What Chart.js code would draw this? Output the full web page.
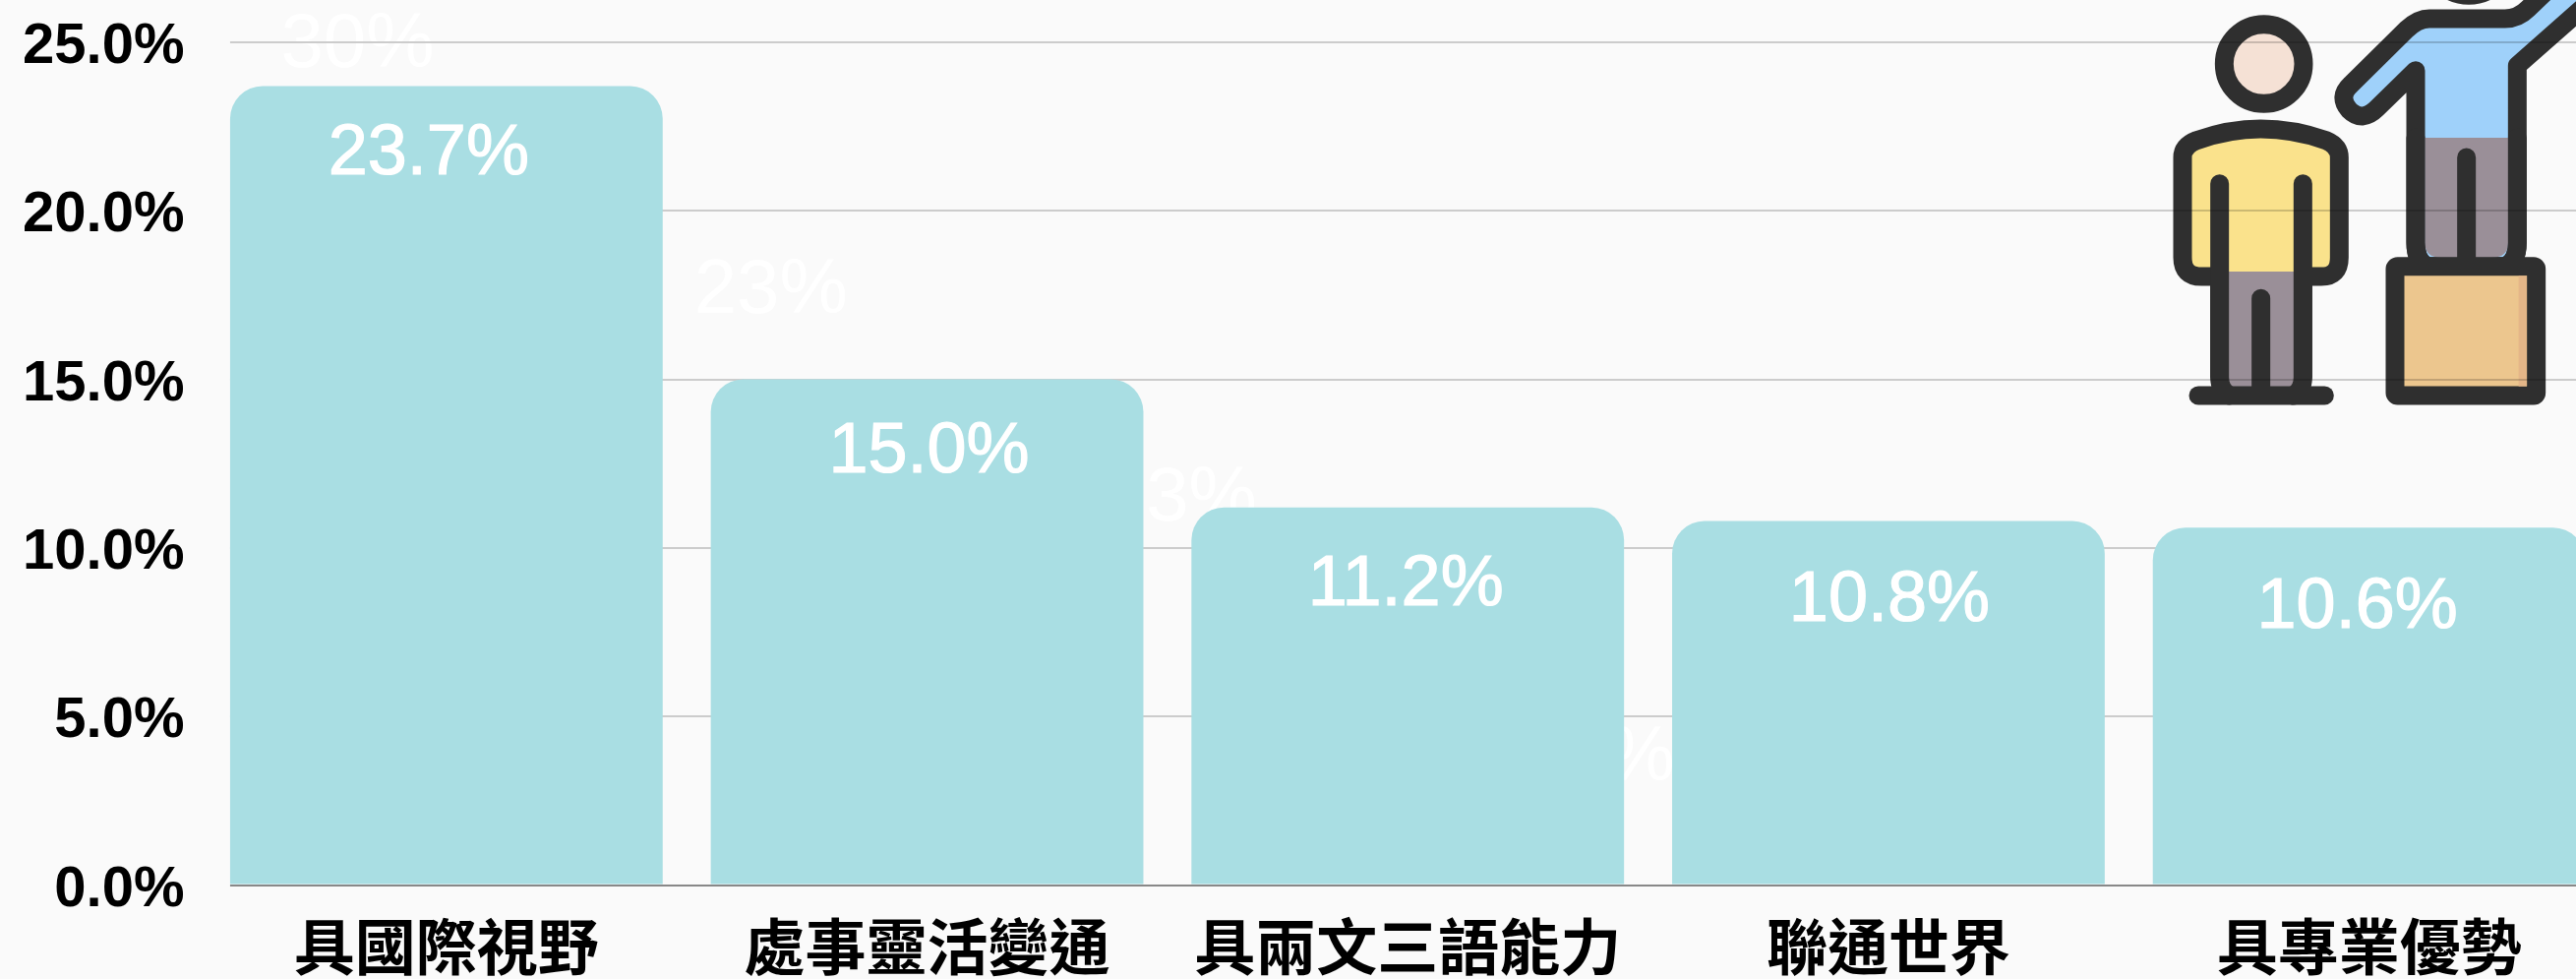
<!DOCTYPE html>
<html>
<head>
<meta charset="utf-8">
<script src="https://cdn.jsdelivr.net/npm/chart.js@4"></script>
<style>
    html, body { margin: 0; height: 100%; overflow: hidden; background: #fafafa; }
    #wrap { position: absolute; left: 0; top: 0; width: 2653px; height: 995px; }
    #icon { position: absolute; left: 2150px; top: 0; width: 469px; height: 430px; mix-blend-mode: multiply; }
</style>
</head>
<body>
<div id="wrap"><canvas id="barChart"></canvas></div>

<!-- people icon, drawn in a 3x grid -->
<svg id="icon" viewBox="0 0 1407 1290">
    <g fill="none" stroke="#303030" stroke-width="57" stroke-linecap="round" stroke-linejoin="round">
        <circle cx="455" cy="195" r="121" fill="#fae6da"/>
        <path d="M320,1150 V843 Q300,843 265,843 Q207,843 207,785 V480 Q207,445 250,428 Q350,393 445,393 Q545,393 645,428 Q685,445 685,480 V785 Q685,843 630,843 Q600,843 574,843 V1150" fill="#ffe78f"/>
        <path d="M320,828 H574 V1150 Q574,1206 540,1206 H350 Q320,1206 320,1150 Z" fill="#9d929b" stroke="none"/>
        <path d="M320,560 V1150 Q320,1190 350,1206 M574,560 V1150 Q574,1190 545,1206 M446,910 V1190"/>
        <path d="M255,1206 H640"/>

        <path d="M918,215 L800,330 Q755,375 715,335 Q680,295 720,258 L890,90 Q925,57 960,57 H1190 Q1230,57 1260,27 L1330,-40 H1500 L1228,200 V740 Q1228,800 1190,812 H955 Q918,800 918,740 Z" fill="#a2d6ff"/>
        <path d="M946,420 H1200 V740 Q1200,785 1150,785 H996 Q946,785 946,740 Z" fill="#9d929b" stroke="none"/>
        <path d="M918,420 V740 Q918,790 950,812 M1228,420 V740 Q1228,790 1195,812 M1073,480 V800"/>
        <circle cx="1080" cy="-135" r="121" fill="#fae6da"/>
        <rect x="855" y="812" width="431" height="394" rx="8" fill="#f1ca91"/>
        <rect x="1232" y="841" width="25" height="337" fill="#e9ba8b" stroke="none"/>
    </g>
</svg>

<script>
const categories = ['具國際視野', '處事靈活變通', '具兩文三語能力', '聯通世界', '具專業優勢'];
const seriesValues = [23.7, 15.0, 11.2, 10.8, 10.6];
const valueTicks = [0, 5, 10, 15, 20, 25];

// faint leftover labels sitting behind the bars
const ghostLabels = ['30%', '23%', '13.3%', '8%'];
const ghostX = [-0.185, 0.675, 1.46, 2.44];
const ghostY = [24.9, 17.6, 11.45, 3.75];

// label nudges in pixels, the source does not centre them exactly
const labelShiftX = [-18, 2, -2, 1, -12];
const labelDrop = [89, 94, 99, 101.5, 102];

const BG = '#fafafa';

const ghostPlugin = {
    id: 'ghostLabels',
    beforeDraw(chart) {
        const { ctx, scales } = chart;
        ctx.save();
        ctx.fillStyle = '#ffffff';
        ctx.font = '78px "Liberation Sans"';
        ctx.textAlign = 'center';
        ctx.textBaseline = 'middle';
        ghostLabels.forEach(function (text, i) {
            ctx.fillText(text, scales.xGhost.getPixelForValue(ghostX[i]), scales.y.getPixelForValue(ghostY[i]));
        });
        ctx.restore();
    }
};

// grid starts at the first bar's left edge, not at the chart area edge
const gridStartPlugin = {
    id: 'gridStart',
    beforeDatasetsDraw(chart) {
        const { ctx, chartArea } = chart;
        const first = chart.getDatasetMeta(0).data[0];
        ctx.save();
        ctx.fillStyle = BG;
        ctx.fillRect(chartArea.left - 2, chartArea.top - 3, first.x - first.width / 2 - chartArea.left + 2, chartArea.height + 6);
        ctx.restore();
    }
};

const valueLabelPlugin = {
    id: 'valueLabels',
    afterDatasetsDraw(chart) {
        const { ctx } = chart;
        ctx.save();
        ctx.fillStyle = '#ffffff';
        ctx.strokeStyle = '#ffffff';
        ctx.lineWidth = 1.2;
        ctx.font = '72px "Liberation Sans"';
        ctx.textAlign = 'center';
        ctx.textBaseline = 'alphabetic';
        chart.getDatasetMeta(0).data.forEach(function (bar, i) {
            const text = seriesValues[i].toFixed(1) + '%';
            ctx.fillText(text, bar.x + labelShiftX[i], bar.y + labelDrop[i]);
            ctx.strokeText(text, bar.x + labelShiftX[i], bar.y + labelDrop[i]);
        });
        ctx.restore();
    }
};

const ctx = document.getElementById('barChart').getContext('2d');
const barChart = new Chart(ctx, {
    type: 'bar',
    data: {
        labels: categories,
        datasets: [
            {
                data: seriesValues,
                backgroundColor: '#a9dee3',
                borderWidth: 0,
                borderSkipped: false,
                borderRadius: { topLeft: 33, topRight: 33, bottomLeft: 0, bottomRight: 0 },
                grouped: false,
                barPercentage: 0.9,
                categoryPercentage: 1
            },
            {
                type: 'scatter',
                xAxisID: 'xGhost',
                data: ghostX.map(function (x, i) { return { x: x, y: ghostY[i] }; }),
                pointRadius: 0,
                showLine: false
            }
        ]
    },
    options: {
        responsive: true,
        maintainAspectRatio: false,
        animation: false,
        layout: { padding: { top: 43 } },
        plugins: {
            legend: { display: false },
            tooltip: { enabled: false }
        },
        scales: {
            x: {
                grid: { display: false, drawTicks: false },
                border: { color: '#888888', width: 2 },
                ticks: {
                    color: '#000000',
                    font: { family: '"Noto Sans CJK TC"', size: 62, weight: 'bold' },
                    maxRotation: 0,
                    autoSkip: false,
                    padding: 26
                },
                afterFit: function (scale) { scale.height = 95.5; }
            },
            xGhost: { type: 'linear', display: false, offset: false, min: -0.5, max: 4.5 },
            y: {
                min: 0,
                max: 25,
                grid: { color: '#cccccc', lineWidth: 2, drawTicks: false },
                border: { display: false },
                afterBuildTicks: function (scale) {
                    scale.ticks = valueTicks.map(function (v) { return { value: v }; });
                },
                ticks: {
                    color: '#000000',
                    font: { family: '"Liberation Sans"', size: 58, weight: 'bold' },
                    padding: 22,
                    labelOffset: 5,
                    callback: function (value) { return value.toFixed(1) + '%'; }
                },
                afterFit: function (scale) {
                    scale.width = 209.5;
                    scale.paddingTop = 0;
                }
            }
        }
    },
    plugins: [ghostPlugin, gridStartPlugin, valueLabelPlugin]
});
</script>
</body>
</html>
